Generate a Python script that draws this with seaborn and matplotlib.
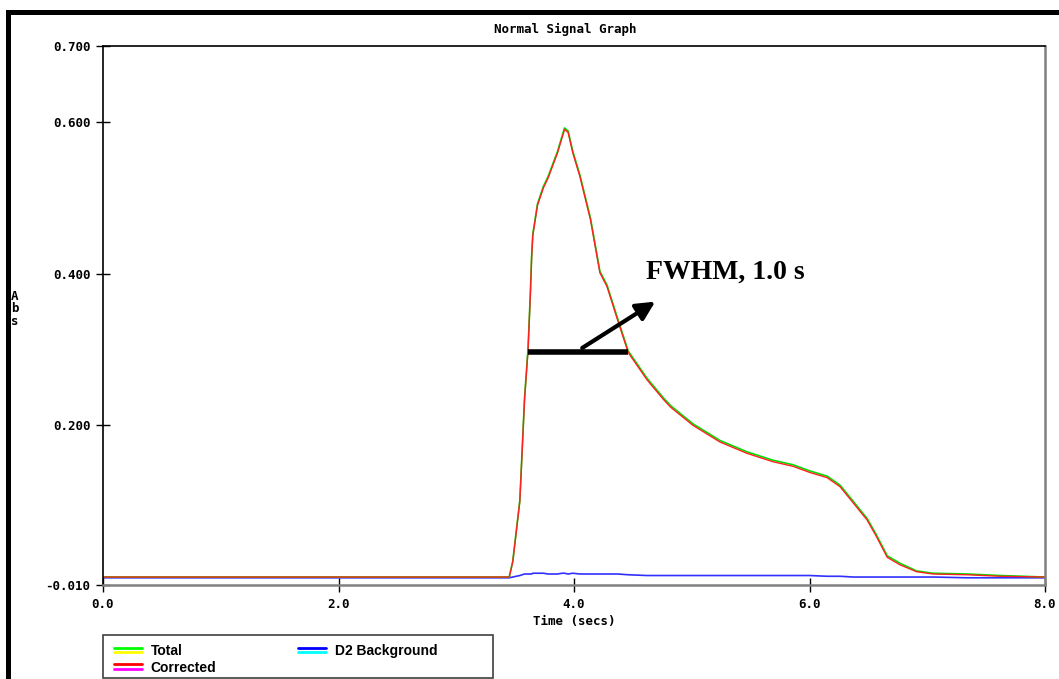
import matplotlib
matplotlib.use("Agg")
import matplotlib.pyplot as plt
import seaborn as sns
from matplotlib.lines import Line2D
from matplotlib.patches import Rectangle
from matplotlib.legend_handler import HandlerBase

# values
time = [0.0, 1.0, 2.0, 3.0, 3.45, 3.48, 3.54, 3.58, 3.61, 3.63, 3.64, 3.65, 3.69,
        3.74, 3.78, 3.86, 3.90, 3.92, 3.95, 3.99, 4.05, 4.14, 4.22, 4.28, 4.37,
        4.46, 4.62, 4.76, 4.82, 5.01, 5.24, 5.47, 5.69, 5.86, 6.00, 6.15, 6.26,
        6.37, 6.49, 6.57, 6.66, 6.77, 6.91, 7.05, 7.34, 7.62, 8.0]
corrected = [0.0, 0.0, 0.0, 0.0, 0.0, 0.020, 0.100, 0.234, 0.300, 0.375, 0.420, 0.450, 0.490,
             0.513, 0.526, 0.559, 0.580, 0.590, 0.586, 0.559, 0.528, 0.471, 0.401, 0.383, 0.339,
             0.296, 0.260, 0.234, 0.224, 0.200, 0.178, 0.163, 0.152, 0.146, 0.138, 0.131, 0.119,
             0.098, 0.075, 0.053, 0.026, 0.016, 0.007, 0.004, 0.003, 0.001, 0.0]
total = [0.0, 0.0, 0.0, 0.0, 0.0, 0.021, 0.101, 0.236, 0.302, 0.377, 0.422, 0.452, 0.492,
         0.515, 0.528, 0.561, 0.582, 0.592, 0.588, 0.561, 0.530, 0.473, 0.403, 0.385, 0.341,
         0.298, 0.262, 0.236, 0.226, 0.202, 0.180, 0.165, 0.154, 0.148, 0.140, 0.133, 0.121,
         0.100, 0.077, 0.055, 0.028, 0.018, 0.008, 0.005, 0.004, 0.002, 0.0]
background = [-0.001, -0.001, -0.001, -0.001, -0.001, 0.000, 0.002, 0.004, 0.004, 0.004, 0.004, 0.005, 0.005,
              0.005, 0.004, 0.004, 0.005, 0.005, 0.004, 0.005, 0.004, 0.004, 0.004, 0.004, 0.004,
              0.003, 0.002, 0.002, 0.002, 0.002, 0.002, 0.002, 0.002, 0.002, 0.002, 0.001, 0.001,
              0.000, 0.000, 0.000, 0.000, 0.000, 0.000, 0.000, -0.001, -0.001, -0.001]

xticks = [0.0, 2.0, 4.0, 6.0, 8.0]
xlabels = ["0.0", "2.0", "4.0", "6.0", "8.0"]
yticks = [-0.010, 0.200, 0.400, 0.600, 0.700]
ylabels = ["-0.010", "0.200", "0.400", "0.600", "0.700"]

sns.set_style("white")
plt.rcParams["font.family"] = ["DejaVu Sans Mono"]
plt.rcParams["text.color"] = "black"
plt.rcParams["axes.labelcolor"] = "black"

W, H = 1059, 679
fig = plt.figure(figsize=(W / 100, H / 100), dpi=100)
ax = fig.add_axes([103 / W, 1 - 585 / H, 942 / W, 539 / H])

sns.lineplot(x=time, y=background, color="#3030ff", lw=1.2, ax=ax, label="D2 Background")
sns.lineplot(x=time, y=total, color="#00e000", lw=1.2, ax=ax, label="Total")
sns.lineplot(x=time, y=corrected, color="#ff2020", lw=1.0, ax=ax, label="Corrected")
ax.get_legend().remove()

ax.set_xlim(0, 8)
ax.set_ylim(-0.0105, 0.700)
ax.set_xticks(xticks)
ax.set_xticklabels(xlabels)
ax.set_yticks(yticks)
ax.set_yticklabels(ylabels)
ax.tick_params(direction="inout", length=10, width=1, labelsize=9, pad=4, colors="black",
               bottom=True, left=True)
for lab in ax.get_xticklabels() + ax.get_yticklabels():
    lab.set_fontweight("bold")
ax.set_xlabel("Time (secs)", fontsize=9, fontweight="bold", labelpad=3, color="black")
ax.set_ylabel("")

for side in ["top", "left"]:
    ax.spines[side].set_color("black")
    ax.spines[side].set_linewidth(1.2)
for side in ["right", "bottom"]:
    ax.spines[side].set_color("#808080")
    ax.spines[side].set_linewidth(1.8)

# FWHM marker
ax.plot([3.61, 4.46], [0.296, 0.296], color="black", lw=4, solid_capstyle="butt")
ax.annotate("", xy=(4.71, 0.365), xytext=(4.05, 0.300),
            arrowprops=dict(arrowstyle="-|>", color="black", lw=3, mutation_scale=28))
ax.text(4.61, 0.402, "FWHM, 1.0 s", family="Liberation Serif", fontweight="bold",
        fontsize=20, va="center", ha="left", color="black")

fig.text(565 / W, 1 - 29 / H, "Normal Signal Graph", ha="center", va="center",
         fontsize=9, fontweight="bold", color="black")
fig.text(15 / W, 1 - 309 / H, "A\nb\ns", ha="center", va="center", fontsize=9,
         fontweight="bold", linespacing=0.92, color="black")

# black frame of the screenshot
fig.add_artist(Rectangle((6 / W, 1 - 15 / H), 1, 5 / H, transform=fig.transFigure,
                         color="black", lw=0))
fig.add_artist(Rectangle((6 / W, 0), 5 / W, 1 - 10 / H, transform=fig.transFigure,
                         color="black", lw=0))


class TwoTone(HandlerBase):
    def __init__(self, top, bottom):
        super().__init__()
        self.top = top
        self.bottom = bottom

    def create_artists(self, legend, orig_handle, xdescent, ydescent, width, height, fontsize, trans):
        y = height / 2 - ydescent
        x = [-xdescent, width - xdescent]
        a = Line2D(x, [y + 1.7, y + 1.7], color=self.top, lw=2, transform=trans)
        b = Line2D(x, [y - 1.7, y - 1.7], color=self.bottom, lw=2, transform=trans)
        return [a, b]


h_total = Line2D([], [], color="#00ff00")
h_corr = Line2D([], [], color="#ff0000")
h_bg = Line2D([], [], color="#0000ff")
fig.add_artist(Rectangle((103 / W, 1 - 678 / H), 390 / W, 43 / H, transform=fig.transFigure,
                         fill=False, edgecolor="#404040", lw=1.2))
fig.legend([h_total, h_corr, h_bg], ["Total", "Corrected", "D2 Background"],
           handler_map={h_total: TwoTone("#00ff00", "#ffff00"),
                        h_corr: TwoTone("#ff0000", "#ff00ff"),
                        h_bg: TwoTone("#0000ff", "#00ffff")},
           loc="upper left", bbox_to_anchor=(111 / W, 1 - 641 / H), ncol=2, frameon=False,
           prop={"family": "Liberation Sans", "weight": "bold", "size": 10},
           handlelength=2.0, handletextpad=0.65, labelspacing=0.2, columnspacing=5.9,
           borderpad=0.2, borderaxespad=0)

fig.savefig("out.png", dpi=100)
